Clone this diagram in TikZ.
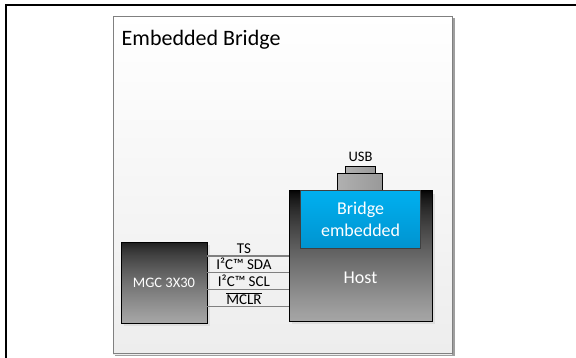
\documentclass[tikz,border=0pt]{standalone}
\usepackage{fontspec}
\setmainfont{Carlito}
\definecolor{bridgeblue}{HTML}{00B0F0}
\definecolor{bridgedark}{HTML}{0094D0}
\definecolor{chipgray}{HTML}{A6A6A6}
\definecolor{chipdark}{HTML}{1A1A1A}
\definecolor{wiregray}{HTML}{808080}
\definecolor{panelgray}{HTML}{EDEDED}
\definecolor{shadowgray}{HTML}{DEDEDE}

\begin{document}
\begin{tikzpicture}[x=1pt, y=-1pt]
	\def\wirepos{.45}
	\tikzset{chip/.style={draw=black, line width=.9pt, inner sep=0pt}}
	\tikzset{plug/.style={draw=black, line width=.8pt, left color=gray!62, right color=gray!80, inner sep=0pt}}
	\tikzset{wire/.style={draw=wiregray, line width=1.1pt}}
	\tikzset{sig/.style={font=\fontsize{15}{15}\selectfont, inner sep=0pt, above=2pt}}
	\useasboundingbox (0,0) rectangle (576,358);
	\draw[line width=2pt] (6,358) -- (6,5.5) -- (576,5.5);
	% panel with its shadow
	\fill[gray!75] (115,18) rectangle (454.5,355.5);
	\foreach \i in {0,2,...,336} {
		\pgfmathsetmacro\p{\i/336*100}
		\fill[panelgray!\p!white] (113,16+\i) rectangle (452,18.5+\i);
	}
	\node[draw=gray, line width=.9pt, minimum width=339, minimum height=337] (panel) at (282.5,184.5) {};
	\node[anchor=base west, inner sep=0pt, font=\fontsize{22}{22}\selectfont] (title) at (121.5,46) {Embedded Bridge};
	% shadows under the chips
	\fill[shadowgray] (124,245) rectangle (210,326);
	\fill[shadowgray] (292,194) rectangle (435,324);
	% shading of the chips
	\foreach \i in {0,...,80} {
		\pgfmathsetmacro\p{100*((\i+0.01)/80.01)^0.7}
		\fill[chipgray!\p!chipdark] (121,242+\i) rectangle (207,243.6+\i);
	}
	\foreach \i in {0,...,130} {
		\pgfmathsetmacro\p{100*((\i+0.01)/130.01)^0.7}
		\fill[chipgray!\p!black] (289,190.5+\i) rectangle (432,192.1+\i);
	}
	\foreach \i in {0,...,57} {
		\pgfmathsetmacro\p{\i/57*100}
		\fill[bridgedark!\p!bridgeblue] (300.6,190.5+\i) rectangle (420.6,192.1+\i);
	}
	% chips
	\node[chip, minimum width=86, minimum height=81, text=white, font=\fontsize{14.5}{14.5}\selectfont] (mgc) at (164,282.5) {MGC 3X30};
	\node[plug, minimum width=30, minimum height=6.5] (usbtip) at (360.7,169.9) {};
	\node[plug, minimum width=45.7, minimum height=17.5] (usb) at (360,181.8) {};
	\node[anchor=base, font=\fontsize{14.5}{14.5}\selectfont] (usblabel) at (360.5,161.7) {USB};
	\node[chip, minimum width=143, minimum height=130.5] (host) at (360.5,255.75) {};
	\node[draw=black!75, line width=.9pt, inner sep=0pt, minimum width=120, minimum height=58,
		text=white, align=center, font=\fontsize{18}{21.7}\selectfont] (bridge) at (360.6,219.4) {Bridge\\embedded};
	\node[text=white, font=\fontsize{18}{18}\selectfont] (hostlabel) at (360.5,277.5) {Host};
	% wires
	\draw[wire] (mgc.east |- 0,256) -- node[sig, pos=\wirepos]{TS} (host.west |- 0,256);
	\draw[wire] (mgc.east |- 0,272.3) -- node[sig, pos=\wirepos]{I²C™ SDA} (host.west |- 0,272.3);
	\draw[wire] (mgc.east |- 0,289.3) -- node[sig, pos=\wirepos]{I²C™ SCL} (host.west |- 0,289.3);
	\draw[wire] (mgc.east |- 0,306.7) -- node[sig, pos=\wirepos]{$\overline{\mbox{MCLR}}$} (host.west |- 0,306.7);
\end{tikzpicture}
\end{document}
